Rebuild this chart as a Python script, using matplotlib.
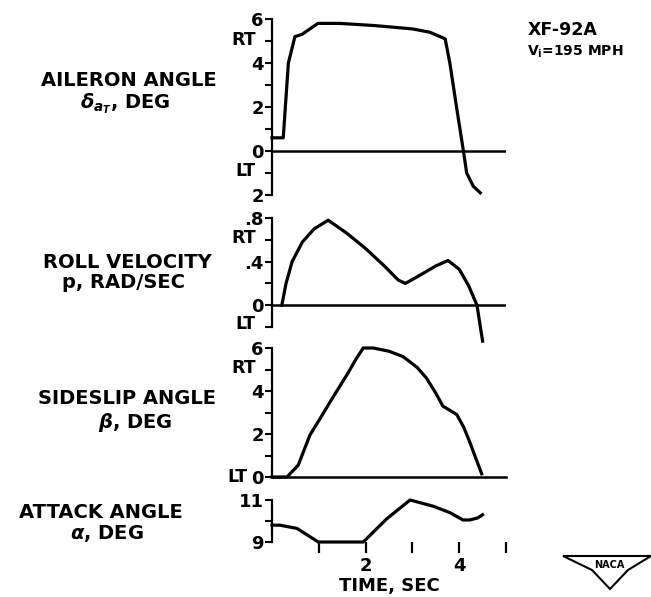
import matplotlib
matplotlib.use('Agg')
import matplotlib.pyplot as plt
from matplotlib.patches import Polygon

# Ailerons
aileron_t = [0, 0.24, 0.35, 0.49, 0.64, 0.98, 1.45, 2.2, 3.0, 3.37, 3.7, 3.8, 3.95, 4.09, 4.16, 4.3, 4.45]
aileron = [0.6, 0.6, 4.0, 5.2, 5.3, 5.8, 5.8, 5.7, 5.55, 5.4, 5.1, 4.0, 1.9, 0.0, -1.0, -1.6, -1.9]

# Roll velocity
roll_t = [0.21, 0.3, 0.43, 0.65, 0.9, 1.2, 1.6, 2.0, 2.4, 2.7, 2.85, 3.1, 3.5, 3.76, 4.0, 4.2, 4.38, 4.5]
roll = [0.0, 0.2, 0.4, 0.58, 0.7, 0.78, 0.66, 0.52, 0.36, 0.23, 0.2, 0.26, 0.36, 0.41, 0.33, 0.18, 0.0, -0.33]

# Sideslip
slip_t = [0, 0.32, 0.56, 0.81, 1.05, 1.3, 1.6, 1.8, 1.95, 2.16, 2.5, 2.8, 3.1, 3.3, 3.5, 3.65, 3.8, 3.95, 4.1, 4.23, 4.35, 4.48]
slip = [0, 0, 0.55, 1.95, 2.8, 3.7, 4.75, 5.5, 6.0, 6.0, 5.85, 5.6, 5.1, 4.6, 3.9, 3.3, 3.1, 2.9, 2.3, 1.6, 0.9, 0.15]

# Angle of attack
alpha_t = [0, 0.17, 0.53, 0.99, 1.95, 2.45, 2.95, 3.45, 3.8, 4.08, 4.23, 4.4, 4.5]
alpha = [9.8, 9.8, 9.65, 9.0, 9.0, 10.1, 11.0, 10.7, 10.4, 10.05, 10.05, 10.15, 10.3]

plt.rcParams['font.family'] = 'DejaVu Sans'
plt.rcParams['font.weight'] = 'bold'
plt.rcParams['mathtext.fontset'] = 'dejavusans'

W, H = 651, 597
fig = plt.figure(figsize=(W / 100, H / 100), dpi=100)

x0 = 272 / W
xw = 234 / W


def panel(top, bottom):
    return fig.add_axes([x0, 1 - bottom / H, xw, (bottom - top) / H])


def style(ax, ylim, ticks, labels):
    ax.set_xlim(0, 5)
    ax.set_ylim(*ylim)
    for s in ['top', 'right', 'bottom']:
        ax.spines[s].set_visible(False)
    ax.spines['left'].set_linewidth(1.6)
    ax.set_yticks(ticks)
    ax.set_yticklabels(labels)
    ax.tick_params(axis='y', direction='out', length=5, width=1.5, pad=1, labelsize=13)
    ax.set_xticks([])
    ax.patch.set_alpha(0)


lw = 2.3
side = dict(fontsize=12.5, fontweight='bold', ha='right', va='center')

ax1 = panel(19, 195)
ax1.plot(aileron_t, aileron, color='black', lw=lw, clip_on=False)
ax1.axhline(0, color='black', lw=1.8)
style(ax1, (-2, 6), [-2, -1, 0, 1, 2, 3, 4, 5, 6], ['2', '', '0', '', '2', '', '4', '', '6'])
ax1.text(-0.07, 5.05, 'RT', transform=ax1.get_yaxis_transform(), **side)
ax1.text(-0.07, -0.9, 'LT', transform=ax1.get_yaxis_transform(), **side)

ax2 = panel(218, 327)
ax2.plot(roll_t, roll, color='black', lw=lw, clip_on=False)
ax2.axhline(0, color='black', lw=1.8)
style(ax2, (-0.2, 0.8), [-0.2, 0, 0.2, 0.4, 0.6, 0.8], ['', '0', '', '.4', '', '.8'])
ax2.text(-0.07, 0.62, 'RT', transform=ax2.get_yaxis_transform(), **side)
ax2.text(-0.07, -0.17, 'LT', transform=ax2.get_yaxis_transform(), **side)

ax3 = panel(348, 477)
ax3.plot(slip_t, slip, color='black', lw=lw, clip_on=False)
ax3.axhline(0, color='black', lw=1.8, clip_on=False)
style(ax3, (0, 6), [0, 1, 2, 3, 4, 5, 6], ['0', '', '2', '', '4', '', '6'])
ax3.text(-0.07, 5.07, 'RT', transform=ax3.get_yaxis_transform(), **side)
ax3.text(-0.105, 0.0, 'LT', transform=ax3.get_yaxis_transform(), **side)

ax4 = panel(500, 542)
ax4.plot(alpha_t, alpha, color='black', lw=lw, clip_on=False)
style(ax4, (9, 11), [9, 10, 11], ['9', '', '11'])
ax4.set_xticks([1, 2, 3, 4, 5])
ax4.set_xticklabels(['', '2', '', '4', ''])
ax4.tick_params(axis='x', direction='out', length=8, width=1.6, pad=3, labelsize=13)
ax4.set_xlabel('TIME, SEC', fontsize=13, fontweight='bold', labelpad=1)

# quantity names on the left
lab = dict(fontsize=14, fontweight='bold', ha='center', va='center')
fig.text(129 / W, 1 - 81 / H, 'AILERON ANGLE', **lab)
fig.text(125 / W, 1 - 104 / H, r'$\delta_{a_T}$, DEG', **lab)
fig.text(127 / W, 1 - 262 / H, 'ROLL VELOCITY', **lab)
fig.text(124 / W, 1 - 283 / H, 'p, RAD/SEC', **lab)
fig.text(127 / W, 1 - 399 / H, 'SIDESLIP ANGLE', **lab)
fig.text(135 / W, 1 - 422 / H, r'$\beta$, DEG', **lab)
fig.text(101 / W, 1 - 512 / H, 'ATTACK ANGLE', **lab)
fig.text(107 / W, 1 - 533 / H, r'$\alpha$, DEG', **lab)

fig.text(528 / W, 1 - 30 / H, 'XF-92A', fontsize=12.5, fontweight='bold', ha='left', va='center')
fig.text(527 / W, 1 - 52 / H, r'V$_{\rm i}$=195 MPH', fontsize=10, fontweight='bold', ha='left', va='center')

# NACA emblem
wing = [(563, 556), (651, 556), (628, 570), (610, 589), (592, 570)]
fig.add_artist(Polygon([(x / W, 1 - y / H) for x, y in wing], closed=True, fill=False,
                       edgecolor='black', lw=1.5, transform=fig.transFigure))
fig.text(609 / W, 1 - 565 / H, 'NACA', fontsize=7, fontweight='bold', ha='center', va='center')

fig.savefig('out.png', dpi=100)
